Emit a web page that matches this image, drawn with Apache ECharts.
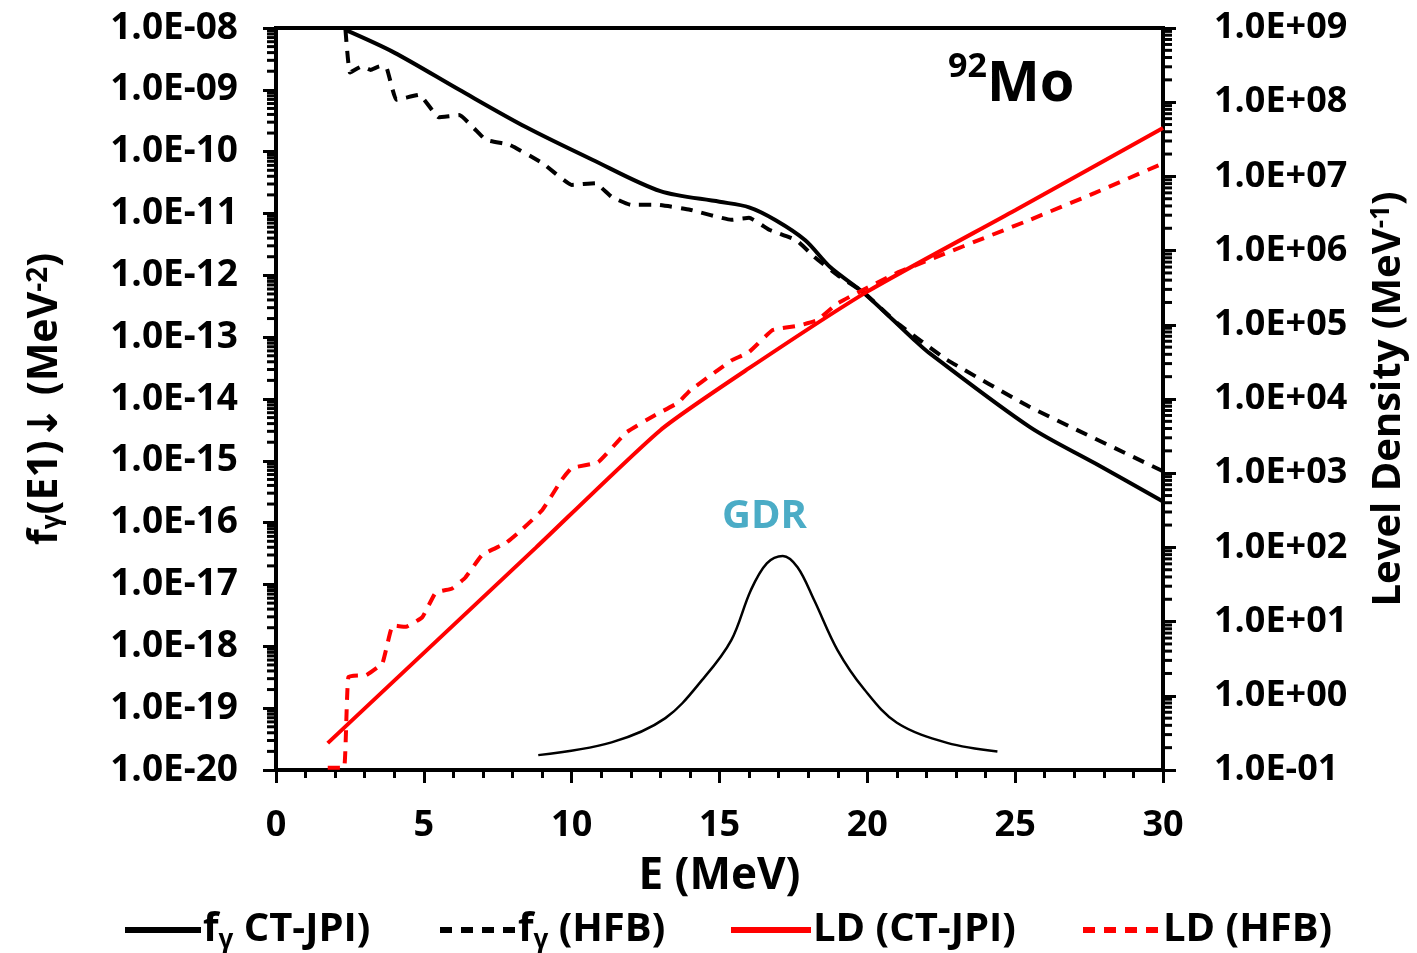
<!DOCTYPE html>
<html>
<head>
<meta charset="utf-8">
<script src="https://cdn.jsdelivr.net/npm/echarts@6/dist/echarts.min.js"></script>
<style>
  html, body { margin: 0; padding: 0; background: #fff; }
  #chart { width: 1417px; height: 953px; }
</style>
</head>
<body>
<div id="chart"></div>
<script>
// photon strength function, CT-JPI (solid black, left axis)
const eFgCt = [2.35, 4.0, 6.2, 8.45, 10.7, 13.0, 15.0, 16.0, 16.9, 17.9, 18.75, 19.9, 21.6, 22.1, 25.5, 27.7, 30.0]
const fgCt = [9.3e-9, 4.0e-9, 1.0e-9, 2.5e-10, 7.4e-11, 2.3e-11, 1.55e-11, 1.26e-11, 7.8e-12, 3.7e-12, 1.35e-12, 5.1e-13, 8.9e-14, 5.5e-14, 3.5e-15, 9.1e-16, 2.2e-16]

// photon strength function, HFB (dashed black, left axis)
const eFgHfb = [2.35, 2.5, 2.9, 3.2, 3.5, 3.75, 4.07, 4.85, 5.5, 6.2, 7.1, 7.9, 9.0, 10.0, 10.8, 11.35, 12.0, 12.9, 14.0, 15.4, 16.0, 16.7, 17.6, 18.2, 19.0, 19.9, 21.0, 22.7, 25.5, 30.0]
const fgHfb = [9.3e-9, 1.9e-9, 2.4e-9, 2.1e-9, 2.4e-9, 2.2e-9, 6.9e-10, 8.3e-10, 3.6e-10, 3.9e-10, 1.55e-10, 1.29e-10, 6.6e-11, 2.9e-11, 3.1e-11, 1.86e-11, 1.38e-11, 1.38e-11, 1.15e-11, 7.9e-12, 8.5e-12, 5.4e-12, 3.7e-12, 2.0e-12, 1.0e-12, 5.2e-13, 1.7e-13, 4.3e-14, 7.4e-15, 6.8e-16]

// level density, CT-JPI (solid red, right axis)
const eLdCt = [1.75, 8.8, 13.0, 16.0, 20.0, 25.0, 30.0]
const ldCt = [0.23, 100, 3800, 2.6e4, 2.8e5, 3.5e6, 4.5e7]

// level density, HFB (dashed red, right axis)
const eLdHfb = [1.75, 2.3, 2.45, 3.05, 3.6, 3.95, 4.4, 4.95, 5.4, 5.96, 6.4, 6.97, 7.78, 8.2, 9.0, 9.66, 10.0, 10.9, 11.85, 12.8, 13.6, 14.0, 14.85, 15.4, 16.0, 16.8, 17.7, 18.3, 19.0, 21.0, 25.5, 27.7, 30.0]
const ldHfb = [0.107, 0.107, 1.8, 1.9, 2.75, 8.9, 8.5, 11.5, 24.5, 28, 39, 79, 115, 158, 316, 810, 1170, 1410, 3550, 6000, 8900, 1.3e4, 2.3e4, 3.3e4, 4.3e4, 8.5e4, 9.8e4, 1.15e5, 1.95e5, 5.0e5, 2.6e6, 6.0e6, 1.5e7]

// GDR shape (thin black, drawn on left axis scale)
const eGdr = [8.87, 11.35, 13.17, 14.5, 15.4, 16.06, 16.6, 17.14, 17.64, 18.2, 18.99, 19.9, 21.0, 22.7, 24.4]
const gdr = [1.74e-20, 2.8e-20, 6.9e-20, 3.2e-19, 1.26e-18, 8.1e-18, 2.2e-17, 2.9e-17, 1.9e-17, 5.6e-18, 8.7e-19, 2.0e-19, 5.8e-20, 2.75e-20, 2.0e-20]

// tick labels
const xTickLabels = ['0', '5', '10', '15', '20', '25', '30']
const leftTickLabels = ['1.0E-20', '1.0E-19', '1.0E-18', '1.0E-17', '1.0E-16', '1.0E-15', '1.0E-14',
  '1.0E-13', '1.0E-12', '1.0E-11', '1.0E-10', '1.0E-09', '1.0E-08']
const rightTickLabels = ['1.0E-01', '1.0E+00', '1.0E+01', '1.0E+02', '1.0E+03', '1.0E+04',
  '1.0E+05', '1.0E+06', '1.0E+07', '1.0E+08', '1.0E+09']

const names = ['fγ CT-JPI)', 'fγ (HFB)', 'LD (CT-JPI)', 'LD (HFB)']

// left axis is laid out in decades (log10), so its ticks land on every power of ten
const zipLog = (xs, ys) => xs.map((x, i) => [x, Math.log10(ys[i])])
const zip = (xs, ys) => xs.map((x, i) => [x, ys[i]])

// log minor ticks (2..9 in each decade)
function minorTicks(lowExp, highExp) {
  const out = []
  for (let n = lowExp; n < highExp; n++) {
    for (let k = 2; k <= 9; k++) out.push(k * Math.pow(10, n))
  }
  return out
}

const FONT = '"Open Sans", "DejaVu Sans", sans-serif'

const chart = echarts.init(document.getElementById('chart'))

const lineBase = { type: 'line', symbol: 'none', smooth: 0.2, z: 3 }

const legendRich = {
  b: { fontSize: 40, fontWeight: 'bold', fontFamily: FONT, color: '#000' },
  s: { fontSize: 26, fontWeight: 'bold', fontFamily: FONT, color: '#000', verticalAlign: 'bottom', lineHeight: 32 }
}
function legendFmt(name) {
  if (name.indexOf('fγ') === 0) return '{b|f}{s|γ}{b|' + name.slice(2) + '}'
  return '{b|' + name + '}'
}
function mkLegend(name, left, width) {
  return {
    data: [name],
    left: left,
    top: 906,
    itemWidth: width,
    itemHeight: 14,
    itemGap: 0,
    padding: 0,
    formatter: legendFmt,
    selectedMode: false,
    itemStyle: { opacity: 0 },
    lineStyle: { width: 6 },
    textStyle: { rich: legendRich, lineHeight: 48, padding: [0, 0, 0, -3] }
  }
}

function tickSeries(values, yAxisIndex, xVal, dir) {
  return {
    type: 'custom',
    yAxisIndex: yAxisIndex,
    silent: true,
    clip: false,
    z: 5,
    data: values.map(v => [xVal, v]),
    renderItem: function (params, api) {
      const p = api.coord([api.value(0), api.value(1)])
      return {
        type: 'line',
        shape: { x1: p[0], y1: p[1], x2: p[0] + dir * 9, y2: p[1] },
        style: { stroke: '#000', lineWidth: 3 }
      }
    }
  }
}

const tickLabelStyle = {
  margin: 38,
  fontSize: 37,
  fontWeight: 'bold',
  color: '#000'
}

const option = {
  backgroundColor: '#fff',
  animation: false,
  textStyle: { fontFamily: FONT },
  grid: {
    left: 276, right: 251, top: 28, bottom: 183,
    show: true, borderColor: '#000', borderWidth: 4
  },
  legend: [
    mkLegend(names[0], 122, 76),
    mkLegend(names[1], 437, 76),
    mkLegend(names[2], 728, 80),
    mkLegend(names[3], 1080, 78)
  ],
  xAxis: {
    type: 'value',
    min: 0,
    max: 30,
    interval: 5,
    name: 'E (MeV)',
    nameLocation: 'middle',
    nameGap: 84,
    nameTextStyle: { fontSize: 44, fontWeight: 'bold', color: '#000', fontFamily: FONT },
    axisLine: { lineStyle: { color: '#000', width: 4 } },
    axisTick: { length: 13, lineStyle: { color: '#000', width: 3 } },
    minorTick: { show: true, splitNumber: 5, length: 8, lineStyle: { color: '#000', width: 3 } },
    splitLine: { show: false },
    axisLabel: Object.assign({}, tickLabelStyle, {
      fontSize: 36,
      formatter: v => xTickLabels[Math.round(v / 5)]
    })
  },
  yAxis: [
    {
      type: 'value',
      min: -20,
      max: -8,
      interval: 1,
      position: 'left',
      name: '{b|f}{s|γ}{b|(E1)↓ (MeV}{p|-2}{b|)}',
      nameLocation: 'middle',
      nameRotate: 90,
      nameGap: 210,
      nameTextStyle: {
        rich: {
          b: { fontSize: 41, fontWeight: 'bold', color: '#000', fontFamily: FONT },
          s: { fontSize: 26, fontWeight: 'bold', color: '#000', fontFamily: FONT, verticalAlign: 'bottom', lineHeight: 34 },
          p: { fontSize: 28, fontWeight: 'bold', color: '#000', fontFamily: FONT, verticalAlign: 'top', lineHeight: 40 }
        }
      },
      axisLine: { show: true, lineStyle: { color: '#000', width: 4 } },
      axisTick: { show: true, length: 13, lineStyle: { color: '#000', width: 3 } },
      minorTick: { show: false },
      splitLine: { show: false },
      axisLabel: Object.assign({}, tickLabelStyle, {
        formatter: v => leftTickLabels[Math.round(v) + 20]
      })
    },
    {
      type: 'log',
      logBase: 10,
      min: 1e-1,
      max: 1e9,
      splitNumber: 10,
      position: 'right',
      name: '{b|Level Density (MeV}{p|-1}{b|)}',
      nameLocation: 'middle',
      nameRotate: 90,
      nameGap: 206,
      nameTextStyle: {
        rich: {
          b: { fontSize: 40, fontWeight: 'bold', color: '#000', fontFamily: FONT },
          p: { fontSize: 26, fontWeight: 'bold', color: '#000', fontFamily: FONT, verticalAlign: 'top', lineHeight: 40 }
        }
      },
      axisLine: { show: true, lineStyle: { color: '#000', width: 4 } },
      axisTick: { show: true, length: 13, lineStyle: { color: '#000', width: 3 } },
      minorTick: { show: false },
      splitLine: { show: false },
      axisLabel: Object.assign({}, tickLabelStyle, {
        margin: 51,
        fontSize: 36,
        formatter: v => rightTickLabels[Math.round(Math.log10(v)) + 1]
      })
    }
  ],
  graphic: [
    {
      type: 'text',
      left: 948,
      top: 50,
      style: {
        text: '{p|92}{m|Mo}',
        rich: {
          p: { fontSize: 34, fontWeight: 'bold', fill: '#000', fontFamily: FONT, verticalAlign: 'top', lineHeight: 60 },
          m: { fontSize: 56, fontWeight: 'bold', fill: '#000', fontFamily: FONT, lineHeight: 70 }
        }
      }
    },
    {
      type: 'text',
      left: 722,
      top: 497,
      style: {
        text: 'GDR',
        fontSize: 40,
        fontWeight: 'bold',
        fill: '#4BACC6',
        fontFamily: FONT
      }
    }
  ],
  series: [
    Object.assign({}, lineBase, {
      name: names[0],
      yAxisIndex: 0,
      smooth: 0.3,
      data: zipLog(eFgCt, fgCt),
      lineStyle: { color: '#000', width: 4 },
      itemStyle: { color: '#000' }
    }),
    Object.assign({}, lineBase, {
      name: names[1],
      yAxisIndex: 0,
      smooth: 0.1,
      data: zipLog(eFgHfb, fgHfb),
      lineStyle: { color: '#000', width: 4, type: [12, 9] },
      itemStyle: { color: '#000' }
    }),
    Object.assign({}, lineBase, {
      name: 'GDR',
      yAxisIndex: 0,
      smooth: 0.35,
      data: zipLog(eGdr, gdr),
      lineStyle: { color: '#000', width: 2.5 },
      itemStyle: { color: '#000' }
    }),
    Object.assign({}, lineBase, {
      name: names[2],
      yAxisIndex: 1,
      smooth: 0.2,
      data: zip(eLdCt, ldCt),
      lineStyle: { color: '#FF0000', width: 4 },
      itemStyle: { color: '#FF0000' }
    }),
    Object.assign({}, lineBase, {
      name: names[3],
      yAxisIndex: 1,
      smooth: 0.1,
      data: zip(eLdHfb, ldHfb),
      lineStyle: { color: '#FF0000', width: 4, type: [12, 9] },
      itemStyle: { color: '#FF0000' }
    }),
    tickSeries(minorTicks(-20, -8).map(v => Math.log10(v)), 0, 0, -1),
    tickSeries(minorTicks(-1, 9), 1, 30, 1)
  ]
}

chart.setOption(option)
</script>
</body>
</html>
